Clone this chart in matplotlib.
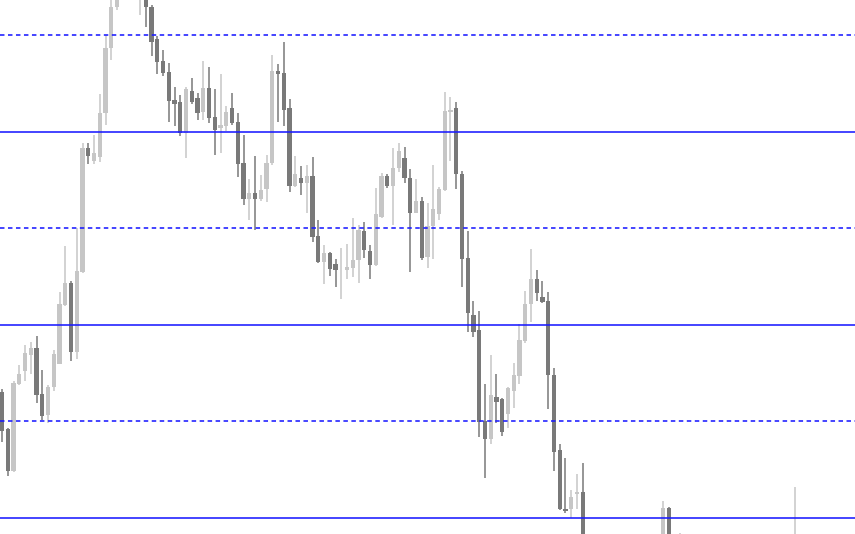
import numpy as np
import matplotlib
matplotlib.use("Agg")
import matplotlib.pyplot as plt

# OHLC per bar (price); bars outside the view are estimates
opens = [1.08650, 1.08461, 1.08243, 1.08694, 1.08761, 1.08844, 1.08883, 1.08642, 1.08534, 1.08679,
         1.08800, 1.09103, 1.09217, 1.08860, 1.09274, 1.09917, 1.09849, 1.09870, 1.10098, 1.10432,
         1.10647, 1.10714, 1.10797, 1.10735, 1.10699, 1.10761, 1.10647, 1.10481, 1.10369, 1.10308,
         1.10167, 1.10155, 1.09994, 1.10212, 1.10174, 1.10103, 1.10227, 1.10079, 1.10020, 1.10031,
         1.10121, 1.10051, 1.09841, 1.09652, 1.09685, 1.09652, 1.09702, 1.09839, 1.10315, 1.10303,
         1.10121, 1.09720, 1.09761, 1.09735, 1.09773, 1.09458, 1.09326, 1.09370, 1.09318, 1.09288,
         1.09287, 1.09295, 1.09336, 1.09488, 1.09384, 1.09311, 1.09561, 1.09769, 1.09720, 1.09813,
         1.09866, 1.09761, 1.09582, 1.09644, 1.09354, 1.09513, 1.09575, 1.09697, 1.10103, 1.10121,
         1.09782, 1.09345, 1.09052, 1.08974, 1.08503, 1.08409, 1.08629, 1.08615, 1.08540, 1.08659,
         1.08733, 1.08919, 1.09106, 1.09238, 1.09145, 1.09124, 1.08742, 1.08350, 1.08049, 1.08047,
         1.08124, 1.08132, 1.07679, 1.07549, 1.07627, 1.07420, 1.07290, 1.07368, 1.07472, 1.07394,
         1.07575, 1.07653, 1.07498, 1.07627, 1.07731, 1.07808, 1.08053, 1.07731, 1.07627, 1.07782,
         1.07679, 1.07575, 1.07679, 1.07523, 1.07601, 1.07705, 1.07627, 1.07731, 1.07808, 1.07705,
         1.07575, 1.07653, 1.07601, 1.07731, 1.07782, 1.07679, 1.07757, 1.07653, 1.07731]
highs = [1.08668, 1.08466, 1.08712, 1.08793, 1.08896, 1.08912, 1.08943, 1.08767, 1.08689, 1.08870,
         1.09171, 1.09409, 1.09230, 1.09502, 1.09944, 1.09943, 1.09984, 1.10196, 1.10502, 1.10704,
         1.10735, 1.10839, 1.10828, 1.10776, 1.10787, 1.10787, 1.10657, 1.10497, 1.10422, 1.10357,
         1.10233, 1.10191, 1.10233, 1.10279, 1.10202, 1.10368, 1.10336, 1.10220, 1.10298, 1.10135,
         1.10202, 1.10100, 1.09984, 1.09756, 1.09875, 1.09777, 1.09879, 1.10400, 1.10352, 1.10466,
         1.10170, 1.09875, 1.09821, 1.09826, 1.09870, 1.09546, 1.09414, 1.09378, 1.09343, 1.09396,
         1.09419, 1.09556, 1.09518, 1.09534, 1.09414, 1.09711, 1.09787, 1.09782, 1.09918, 1.09944,
         1.09923, 1.09808, 1.09756, 1.09663, 1.09632, 1.09826, 1.09715, 1.10207, 1.10183, 1.10153,
         1.09797, 1.09488, 1.09124, 1.09074, 1.08694, 1.08844, 1.08747, 1.08624, 1.08680, 1.08805,
         1.09005, 1.09176, 1.09393, 1.09287, 1.09230, 1.09171, 1.08777, 1.08385, 1.08311, 1.08146,
         1.08229, 1.08287, 1.07731, 1.07653, 1.07705, 1.07523, 1.07420, 1.07498, 1.07575, 1.07627,
         1.07705, 1.07731, 1.07679, 1.07782, 1.07860, 1.08088, 1.08057, 1.07886, 1.07924, 1.07860,
         1.07757, 1.07731, 1.07782, 1.07653, 1.07731, 1.07782, 1.07757, 1.07860, 1.07886, 1.07757,
         1.07679, 1.07731, 1.07782, 1.07834, 1.07860, 1.07782, 1.07834, 1.07782, 1.08161]
lows = [1.08394, 1.08218, 1.08238, 1.08689, 1.08712, 1.08746, 1.08596, 1.08505, 1.08492, 1.08658,
        1.08798, 1.09096, 1.08813, 1.08824, 1.09269, 1.09831, 1.09831, 1.09844, 1.10036, 1.10372,
        1.10631, 1.10699, 1.10709, 1.10694, 1.10606, 1.10543, 1.10393, 1.10298, 1.10291, 1.10051,
        1.10031, 1.09979, 1.09866, 1.10145, 1.10064, 1.10064, 1.10044, 1.09882, 1.09888, 1.10003,
        1.10033, 1.09767, 1.09619, 1.09544, 1.09492, 1.09642, 1.09637, 1.09826, 1.10051, 1.10031,
        1.09686, 1.09715, 1.09673, 1.09580, 1.09430, 1.09321, 1.09212, 1.09255, 1.09198, 1.09134,
        1.09238, 1.09248, 1.09217, 1.09347, 1.09238, 1.09305, 1.09554, 1.09709, 1.09518, 1.09792,
        1.09735, 1.09274, 1.09580, 1.09336, 1.09295, 1.09342, 1.09544, 1.09694, 1.09849, 1.09702,
        1.09198, 1.08965, 1.08938, 1.08420, 1.08207, 1.08385, 1.08492, 1.08425, 1.08465, 1.08570,
        1.08694, 1.08907, 1.09016, 1.09124, 1.09116, 1.08562, 1.08243, 1.08041, 1.08028, 1.08000,
        1.08049, 1.07575, 1.07498, 1.07472, 1.07368, 1.07239, 1.07213, 1.07316, 1.07342, 1.07368,
        1.07523, 1.07446, 1.07472, 1.07575, 1.07679, 1.07782, 1.07679, 1.07575, 1.07601, 1.07627,
        1.07523, 1.07549, 1.07472, 1.07420, 1.07575, 1.07575, 1.07601, 1.07679, 1.07653, 1.07523,
        1.07498, 1.07549, 1.07575, 1.07653, 1.07627, 1.07627, 1.07601, 1.07601, 1.07705]
closes = [1.08452, 1.08243, 1.08699, 1.08746, 1.08857, 1.08881, 1.08637, 1.08528, 1.08679, 1.08850,
          1.09109, 1.09217, 1.08860, 1.09279, 1.09914, 1.09875, 1.09888, 1.10100, 1.10432, 1.10647,
          1.10714, 1.10797, 1.10735, 1.10709, 1.10745, 1.10647, 1.10466, 1.10362, 1.10303, 1.10162,
          1.10145, 1.09994, 1.10220, 1.10156, 1.10100, 1.10227, 1.10074, 1.10011, 1.10033, 1.10103,
          1.10046, 1.09835, 1.09652, 1.09685, 1.09652, 1.09697, 1.09841, 1.10315, 1.10298, 1.10113,
          1.09720, 1.09782, 1.09735, 1.09773, 1.09456, 1.09326, 1.09370, 1.09290, 1.09285, 1.09291,
          1.09300, 1.09336, 1.09492, 1.09388, 1.09311, 1.09575, 1.09769, 1.09720, 1.09813, 1.09901,
          1.09759, 1.09582, 1.09644, 1.09348, 1.09513, 1.09601, 1.09702, 1.10108, 1.10113, 1.09782,
          1.09340, 1.09062, 1.08963, 1.08495, 1.08409, 1.08637, 1.08601, 1.08443, 1.08671, 1.08742,
          1.08924, 1.09110, 1.09238, 1.09167, 1.09119, 1.08742, 1.08344, 1.08047, 1.08036, 1.08111,
          1.08137, 1.07679, 1.07549, 1.07627, 1.07420, 1.07290, 1.07368, 1.07472, 1.07394, 1.07575,
          1.07653, 1.07498, 1.07627, 1.07731, 1.07808, 1.08050, 1.07731, 1.07627, 1.07782, 1.07679,
          1.07575, 1.07679, 1.07523, 1.07601, 1.07705, 1.07627, 1.07731, 1.07808, 1.07705, 1.07575,
          1.07653, 1.07601, 1.07731, 1.07782, 1.07679, 1.07757, 1.07653, 1.07731, 1.07860]

# horizontal levels
solid_levels = [1.0800, 1.0900, 1.1000]
dashed_levels = [1.0850, 1.0950, 1.1050]

UP_COLOR = '#c6c6c6'
DOWN_COLOR = '#797979'
LEVEL_COLOR = '#1a1aff'

o = np.array(opens)
h = np.array(highs)
l = np.array(lows)
c = np.array(closes)
x = np.arange(len(o))
colors = np.where(c >= o, UP_COLOR, DOWN_COLOR)

fig = plt.figure(figsize=(8.55, 5.34), dpi=100)
ax = fig.add_axes([0, 0, 1, 1])

# wicks then bodies
ax.vlines(x, l, h, colors=colors, linewidth=1.1, zorder=2)
body_bottom = np.minimum(o, c)
body_height = np.maximum(np.abs(c - o), 0.00003)
ax.bar(x, body_height, bottom=body_bottom, width=0.72, color=colors,
       linewidth=0, zorder=3)

for lv in solid_levels:
    ax.axhline(lv, color=LEVEL_COLOR, linewidth=1.15, zorder=4)
for lv in dashed_levels:
    ax.axhline(lv, color=LEVEL_COLOR, linewidth=1.15, dashes=(2.8, 2.2), zorder=4)

ax.set_xlim(-0.35, 148.35)
ax.set_ylim(1.07917, 1.10683)
ax.axis('off')

fig.savefig('out.png', dpi=100, facecolor='white')
